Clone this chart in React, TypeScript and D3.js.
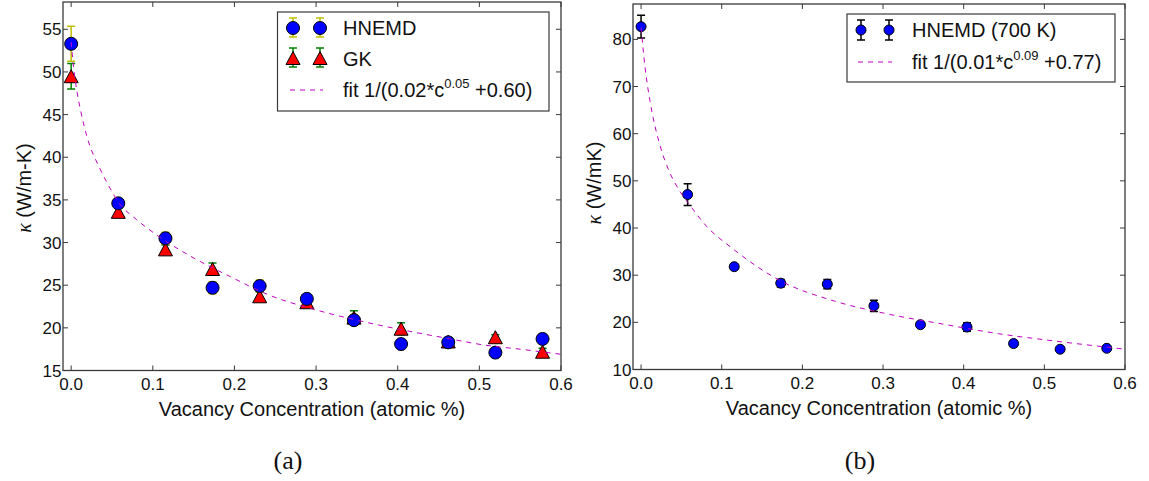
import React from 'react';
import * as d3 from 'd3';

// ---------- data ----------
const conc = [0, 0.0577, 0.1155, 0.1732, 0.2309, 0.2887, 0.3464, 0.4041, 0.4619, 0.5196, 0.5774];

// panel (a)
const hnemdA = [53.3, 34.6, 30.5, 24.7, 24.9, 23.4, 20.9, 18.1, 18.3, 17.1, 18.7];
const hnemdAErr = [2.05, 0.6, 0.7, 0.7, 0.7, 0.6, 0.6, 0.3, 0.5, 0.3, 0.4];
const gkA = [49.5, 33.6, 29.2, 26.9, 23.7, 23.0, 21.2, 19.9, 18.4, 18.9, 17.2];
const gkAErr = [1.5, 0.5, 0.5, 0.7, 0.5, 0.4, 0.8, 0.7, 0.4, 0.3, 0.4];
const fitAx = [0.0, 0.003, 0.0073, 0.0113, 0.0194, 0.0356, 0.048, 0.059, 0.08, 0.1045, 0.15, 0.195, 0.241, 0.3, 0.35, 0.414, 0.459, 0.505, 0.55, 0.6];
const fitAy = [53.5, 50.5, 47.6, 45.6, 42.4, 38.6, 36.3, 34.6, 32.7, 30.9, 28.2, 26.0, 23.9, 22.1, 20.9, 19.6, 18.8, 18.0, 17.5, 16.9];

// panel (b)
const hnemdB = [82.7, 47.1, 31.8, 28.3, 28.1, 23.5, 19.5, 19.0, 15.5, 14.3, 14.5];
const hnemdBErr = [2.4, 2.3, 0.5, 0.8, 1.0, 1.2, 0.4, 0.9, 0.6, 0.4, 0.5];
const fitBx = [0.0, 0.005, 0.011, 0.0235, 0.035, 0.048, 0.0607, 0.08, 0.1146, 0.173, 0.24, 0.308, 0.375, 0.443, 0.51, 0.6];
const fitBy = [82.5, 74.0, 67.0, 57.5, 52.0, 47.8, 44.8, 40.6, 35.5, 28.8, 24.5, 21.7, 19.6, 17.6, 16.1, 14.3];

// ticks
const xTicks = [0, 0.1, 0.2, 0.3, 0.4, 0.5, 0.6];
const yTicksA = [15, 20, 25, 30, 35, 40, 45, 50, 55];
const yTicksB = [10, 20, 30, 40, 50, 60, 70, 80];

const SANS = "'Liberation Sans', Arial, Helvetica, sans-serif";
const SERIF = "'Liberation Serif', 'DejaVu Serif', serif";

const BLUE = '#0000ff';
const RED = '#ff0000';
const YEL = '#bfbf00';
const GRN = '#008000';
const MAG = '#bf00bf';
const FRAME = '#3a3a3a';

type Box = { l: number; r: number; t: number; b: number };

function triPath(cx: number, cy: number, w: number, h: number) {
  return `M${cx},${cy - h}L${cx - w},${cy + h}L${cx + w},${cy + h}Z`;
}

function ErrBar({ x, yTop, yBot, color, cap, sw }: { x: number; yTop: number; yBot: number; color: string; cap: number; sw: number }) {
  return (
    <g stroke={color} strokeWidth={sw} fill="none">
      <line x1={x} x2={x} y1={yTop} y2={yBot} />
      <line x1={x - cap} x2={x + cap} y1={yTop} y2={yTop} />
      <line x1={x - cap} x2={x + cap} y1={yBot} y2={yBot} />
    </g>
  );
}

function Frame({ box, xs, ys, yTicks }: { box: Box; xs: d3.ScaleLinear<number, number>; ys: d3.ScaleLinear<number, number>; yTicks: number[] }) {
  const tl = 5;
  return (
    <g>
      <rect x={box.l} y={box.t} width={box.r - box.l} height={box.b - box.t} fill="none" stroke={FRAME} strokeWidth={1.3} />
      {xTicks.map((v) => (
        <g key={'x' + v}>
          <line x1={xs(v)} x2={xs(v)} y1={box.b} y2={box.b - tl} stroke={FRAME} strokeWidth={1} />
          <line x1={xs(v)} x2={xs(v)} y1={box.t} y2={box.t + tl} stroke={FRAME} strokeWidth={1} />
          <text x={xs(v)} y={box.b + 19.5} textAnchor="middle" fontFamily={SANS} fontSize={17} fill="#111">
            {v.toFixed(1)}
          </text>
        </g>
      ))}
      {yTicks.map((v) => (
        <g key={'y' + v}>
          <line x1={box.l} x2={box.l + tl} y1={ys(v)} y2={ys(v)} stroke={FRAME} strokeWidth={1} />
          <line x1={box.r} x2={box.r - tl} y1={ys(v)} y2={ys(v)} stroke={FRAME} strokeWidth={1} />
          <text x={box.l - 1.5} y={ys(v) + 6} textAnchor="end" fontFamily={SANS} fontSize={17} fill="#111">
            {v}
          </text>
        </g>
      ))}
      <text x={(box.l + box.r) / 2} y={box.b + 45} textAnchor="middle" fontFamily={SANS} fontSize={20} fill="#111">
        Vacancy Concentration (atomic %)
      </text>
    </g>
  );
}

export default function App() {
  // ----- panel a -----
  const boxA: Box = { l: 63, r: 561, t: 2, b: 370.5 };
  const xA = d3.scaleLinear().domain([-0.01, 0.6]).range([boxA.l, boxA.r]);
  const yA = d3.scaleLinear().domain([15, 58.2]).range([boxA.b, boxA.t]);
  const lineA = d3
    .line<number>()
    .x((_, i) => xA(fitAx[i]))
    .y((d) => yA(d))
    .curve(d3.curveMonotoneX);

  // ----- panel b -----
  const boxB: Box = { l: 633, r: 1125, t: 4, b: 369.5 };
  const xB = d3.scaleLinear().domain([-0.01, 0.6]).range([boxB.l, boxB.r]);
  const yB = d3.scaleLinear().domain([10, 87.5]).range([boxB.b, boxB.t]);
  const lineB = d3
    .line<number>()
    .x((_, i) => xB(fitBx[i]))
    .y((d) => yB(d))
    .curve(d3.curveMonotoneX);

  return (
    <svg width={1149} height={481} style={{ position: 'absolute', left: 0, top: 0, background: '#fff' }}>
      <rect x={0} y={0} width={1149} height={481} fill="#fff" />

      {/* ================= panel (a) ================= */}
      <clipPath id="clipA">
        <rect x={boxA.l} y={boxA.t} width={boxA.r - boxA.l} height={boxA.b - boxA.t} />
      </clipPath>
      <g clipPath="url(#clipA)">
        {conc.map((c, i) => (
          <ErrBar key={'ge' + i} x={xA(c)} yTop={yA(gkA[i] + gkAErr[i])} yBot={yA(gkA[i] - gkAErr[i])} color={GRN} cap={4} sw={1.5} />
        ))}
        {conc.map((c, i) => (
          <path key={'gt' + i} d={triPath(xA(c), yA(gkA[i]), 7, 6.5)} fill={RED} stroke="#000" strokeWidth={1} />
        ))}
        {conc.map((c, i) => (
          <ErrBar key={'he' + i} x={xA(c)} yTop={yA(hnemdA[i] + hnemdAErr[i])} yBot={yA(hnemdA[i] - hnemdAErr[i])} color={YEL} cap={4} sw={1.5} />
        ))}
        {conc.map((c, i) => (
          <circle key={'hc' + i} cx={xA(c)} cy={yA(hnemdA[i])} r={6.5} fill={BLUE} stroke="#000" strokeWidth={1} />
        ))}
        <path d={lineA(fitAy) || ''} fill="none" stroke={MAG} strokeWidth={1} strokeDasharray="5,5" />
      </g>
      <Frame box={boxA} xs={xA} ys={yA} yTicks={yTicksA} />
      <text transform="translate(31,188) rotate(-90)" textAnchor="middle" fontFamily={SANS} fontSize={20} fill="#111">
        <tspan fontFamily={SERIF} fontStyle="italic">κ</tspan> (W/m-K)
      </text>

      {/* legend a */}
      <g>
        <rect x={277.5} y={12} width={271.5} height={99} fill="#fff" stroke={FRAME} strokeWidth={1.2} />
        {[293, 320].map((x) => (
          <g key={'la' + x}>
            <ErrBar x={x} yTop={18} yBot={37} color={YEL} cap={4} sw={1.5} />
            <circle cx={x} cy={28} r={6.5} fill={BLUE} stroke="#000" strokeWidth={1} />
            <ErrBar x={x} yTop={48} yBot={67} color={GRN} cap={4} sw={1.5} />
            <path d={triPath(x, 58, 7, 6.5)} fill={RED} stroke="#000" strokeWidth={1} />
          </g>
        ))}
        <line x1={290} x2={323} y1={90} y2={90} stroke={MAG} strokeWidth={1} strokeDasharray="5,5" />
        <text x={343} y={35} fontFamily={SANS} fontSize={20} fill="#111">HNEMD</text>
        <text x={343} y={66} fontFamily={SANS} fontSize={20} fill="#111">GK</text>
        <text x={343} y={97} fontFamily={SANS} fontSize={20} fill="#111">
          fit 1/(0.02*c<tspan fontSize={13} dy={-9}>0.05</tspan>
          <tspan dy={9}> +0.60)</tspan>
        </text>
      </g>

      <text x={288} y={469} textAnchor="middle" fontFamily={SERIF} fontSize={26} fill="#111">(a)</text>

      {/* ================= panel (b) ================= */}
      <clipPath id="clipB">
        <rect x={boxB.l} y={boxB.t} width={boxB.r - boxB.l} height={boxB.b - boxB.t} />
      </clipPath>
      <g clipPath="url(#clipB)">
        {conc.map((c, i) => (
          <ErrBar key={'be' + i} x={xB(c)} yTop={yB(hnemdB[i] + hnemdBErr[i])} yBot={yB(hnemdB[i] - hnemdBErr[i])} color="#000" cap={4} sw={1.5} />
        ))}
        {conc.map((c, i) => (
          <circle key={'bc' + i} cx={xB(c)} cy={yB(hnemdB[i])} r={5} fill={BLUE} stroke="#000" strokeWidth={1} />
        ))}
        <path d={lineB(fitBy) || ''} fill="none" stroke={MAG} strokeWidth={1} strokeDasharray="5,5" />
      </g>
      <Frame box={boxB} xs={xB} ys={yB} yTicks={yTicksB} />
      <text transform="translate(601,183) rotate(-90)" textAnchor="middle" fontFamily={SANS} fontSize={20} fill="#111">
        <tspan fontFamily={SERIF} fontStyle="italic">κ</tspan> (W/mK)
      </text>

      {/* legend b */}
      <g>
        <rect x={847} y={14} width={268} height={68} fill="#fff" stroke={FRAME} strokeWidth={1.2} />
        {[861, 889].map((x) => (
          <g key={'lb' + x}>
            <ErrBar x={x} yTop={20} yBot={40} color="#000" cap={4} sw={1.5} />
            <circle cx={x} cy={30} r={5} fill={BLUE} stroke="#000" strokeWidth={1} />
          </g>
        ))}
        <line x1={858} x2={892} y1={62} y2={62} stroke={MAG} strokeWidth={1} strokeDasharray="5,5" />
        <text x={912} y={37} fontFamily={SANS} fontSize={20} fill="#111">HNEMD (700 K)</text>
        <text x={912} y={69} fontFamily={SANS} fontSize={20} fill="#111">
          fit 1/(0.01*c<tspan fontSize={13} dy={-9}>0.09</tspan>
          <tspan dy={9}> +0.77)</tspan>
        </text>
      </g>

      <text x={860} y={469} textAnchor="middle" fontFamily={SERIF} fontSize={26} fill="#111">(b)</text>
    </svg>
  );
}
